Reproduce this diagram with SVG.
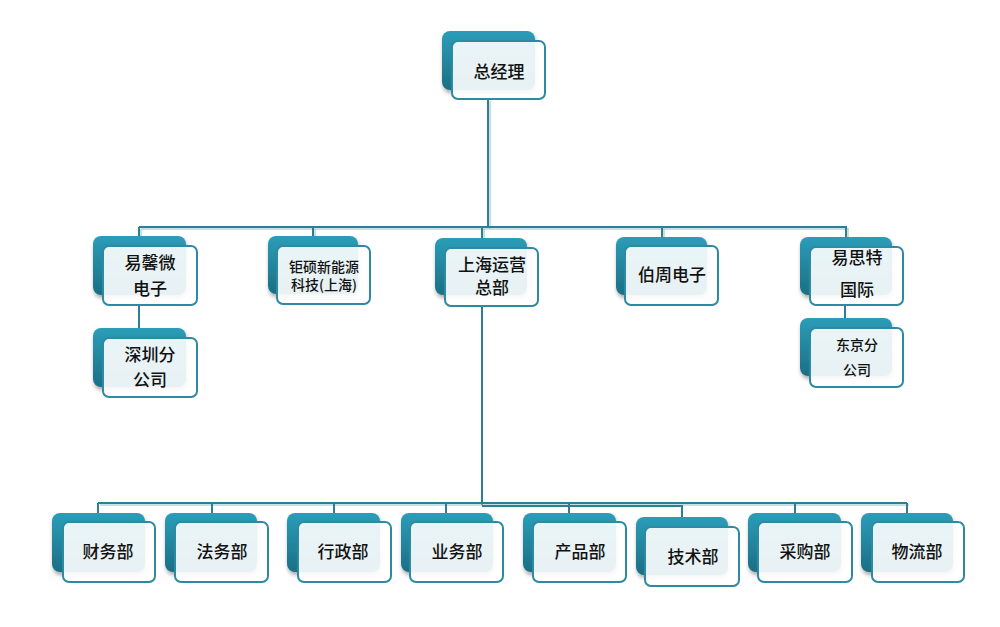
<svg xmlns="http://www.w3.org/2000/svg" width="1000" height="627" viewBox="0 0 1000 627">
<defs>
<linearGradient id="bg" x1="0" y1="0" x2="0" y2="1">
<stop offset="0" stop-color="#2b9db9"/>
<stop offset="1" stop-color="#1b6f84"/>
</linearGradient>
<filter id="sh" x="-20%" y="-20%" width="140%" height="150%">
<feGaussianBlur in="SourceAlpha" stdDeviation="2"/>
<feOffset dx="1" dy="3"/>
<feComponentTransfer><feFuncA type="linear" slope="0.35"/></feComponentTransfer>
<feMerge><feMergeNode/><feMergeNode in="SourceGraphic"/></feMerge>
</filter>
</defs>
<style>
.back{fill:url(#bg);filter:url(#sh)}
.front{fill:#ffffff;fill-opacity:0.9;stroke:#2e8aa2;stroke-width:2}
.t{font-family:"Noto Sans CJK SC","Liberation Sans",sans-serif;font-size:17px;font-weight:500;fill:#111;text-anchor:middle}
.s{font-size:14px}
.c{fill:none;stroke:#2e7f95;stroke-width:2}
.c2{fill:none;stroke:#8fc0cc;stroke-width:1}
</style>
<rect width="1000" height="627" fill="#ffffff"/>
<g id="connectors">
<path class="c2" d="M490 101V229M141 229H849M141 229V238M315 229V238M484 229V238M664 229V238M848 229V238"/>
<path class="c" d="M488 100V227M139 227H847M139 227V237M313 227V237M482 227V238M662 227V237M846 227V237"/>
<path class="c" d="M139 305V328M845 305V318"/>
<path class="c" d="M482 306V505"/>
<path class="c2" d="M100 505H909"/>
<path class="c" d="M98 503H907M98 503V513M212 503V513M334 503V513M446 503V513M569 503V513M795 503V513M907 503V513"/>
<path class="c" d="M482 506H682V517"/>
</g>
<g id="n0"><rect class="back" x="442" y="31" width="93" height="59" rx="8"/><rect class="front" x="452" y="41" width="93" height="58" rx="6"/><text class="t" x="499" y="78">总经理</text></g>
<g id="n1"><rect class="back" x="93" y="236" width="93" height="59" rx="8"/><rect class="front" x="103" y="246" width="94" height="59" rx="6"/><text class="t" x="150" y="269">易馨微</text><text class="t" x="150" y="295">电子</text></g>
<g id="n1a"><rect class="back" x="93" y="328" width="93" height="59" rx="8"/><rect class="front" x="103" y="338" width="94" height="59" rx="6"/><text class="t" x="150" y="361">深圳分</text><text class="t" x="150" y="386">公司</text></g>
<g id="n2"><rect class="back" x="268" y="236" width="90" height="58" rx="8"/><rect class="front" x="277" y="246" width="93" height="58" rx="6"/><text class="t s" x="324" y="272">钜硕新能源</text><text class="t s" x="324" y="290">科技(上海)</text></g>
<g id="n3"><rect class="back" x="435" y="238" width="92" height="57" rx="8"/><rect class="front" x="445" y="248" width="93" height="58" rx="6"/><text class="t" x="492" y="271">上海运营</text><text class="t" x="492" y="294">总部</text></g>
<g id="n4"><rect class="back" x="616" y="237" width="91" height="58" rx="8"/><rect class="front" x="625" y="246" width="93" height="59" rx="6"/><text class="t" x="672" y="281">伯周电子</text></g>
<g id="n5"><rect class="back" x="800" y="237" width="92" height="58" rx="8"/><rect class="front" x="810" y="247" width="93" height="58" rx="6"/><text class="t" x="857" y="264">易思特</text><text class="t" x="857" y="296">国际</text></g>
<g id="n5a"><rect class="back" x="800" y="318" width="92" height="58" rx="8"/><rect class="front" x="810" y="328" width="93" height="59" rx="6"/><text class="t s" x="857" y="350">东京分</text><text class="t s" x="857" y="375">公司</text></g>
<g id="d1"><rect class="back" x="52" y="513" width="93" height="59" rx="8"/><rect class="front" x="63" y="522" width="92" height="60" rx="6"/><text class="t" x="108" y="558">财务部</text></g>
<g id="d2"><rect class="back" x="165" y="513" width="92" height="59" rx="8"/><rect class="front" x="175" y="522" width="93" height="60" rx="6"/><text class="t" x="222" y="558">法务部</text></g>
<g id="d3"><rect class="back" x="287" y="513" width="93" height="59" rx="8"/><rect class="front" x="298" y="522" width="93" height="60" rx="6"/><text class="t" x="343" y="558">行政部</text></g>
<g id="d4"><rect class="back" x="401" y="513" width="92" height="59" rx="8"/><rect class="front" x="410" y="522" width="93" height="60" rx="6"/><text class="t" x="457" y="558">业务部</text></g>
<g id="d5"><rect class="back" x="523" y="513" width="93" height="59" rx="8"/><rect class="front" x="533" y="522" width="93" height="60" rx="6"/><text class="t" x="580" y="558">产品部</text></g>
<g id="d6"><rect class="back" x="636" y="517" width="92" height="58" rx="8"/><rect class="front" x="645" y="527" width="94" height="59" rx="6"/><text class="t" x="693" y="563">技术部</text></g>
<g id="d7"><rect class="back" x="748" y="513" width="93" height="59" rx="8"/><rect class="front" x="758" y="522" width="94" height="60" rx="6"/><text class="t" x="805" y="558">采购部</text></g>
<g id="d8"><rect class="back" x="861" y="513" width="92" height="59" rx="8"/><rect class="front" x="872" y="522" width="92" height="60" rx="6"/><text class="t" x="917" y="558">物流部</text></g>
</svg>
